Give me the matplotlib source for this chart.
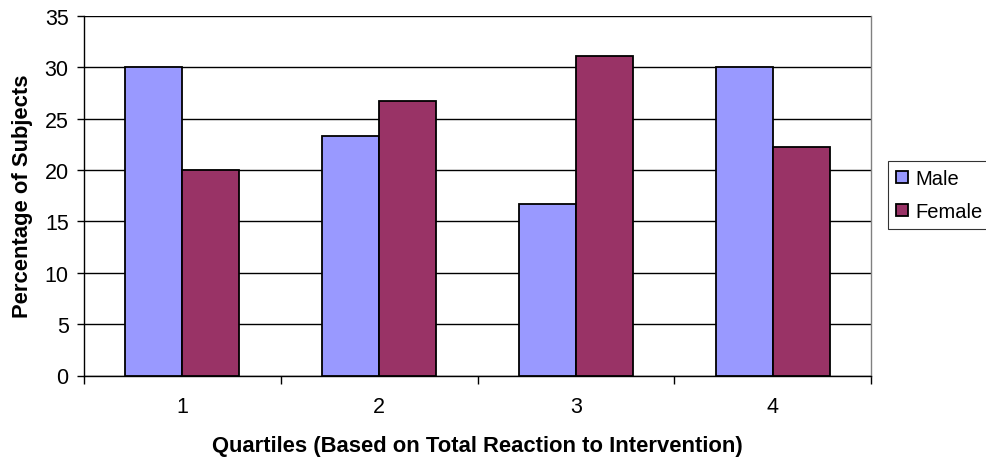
import matplotlib
matplotlib.use("Agg")
import matplotlib.pyplot as plt
from matplotlib.ticker import FixedLocator, NullFormatter
import numpy as np

plt.rcParams['font.family'] = ['Liberation Sans', 'DejaVu Sans']

quartiles = ["1", "2", "3", "4"]
male = [30.0, 23.3, 16.7, 30.0]
female = [20.0, 26.7, 31.1, 22.2]
yticks = [0, 5, 10, 15, 20, 25, 30, 35]

male_color = "#9999FF"
female_color = "#993366"
fs = 15.5

fig = plt.figure(figsize=(9.86, 4.6), dpi=100)
W, H = 986, 460
left, right, top, bottom = 84, 871, 17, 376.5
ax = fig.add_axes([left / W, 1 - bottom / H, (right - left) / W, (bottom - top) / H])

x = np.arange(len(quartiles))
bw = 0.29
ax.bar(x - bw / 2, male, bw, color=male_color, edgecolor="black", linewidth=1.3, label="Male", zorder=3)
ax.bar(x + bw / 2, female, bw, color=female_color, edgecolor="black", linewidth=1.3, label="Female", zorder=3)

ax.set_xlim(-0.5, len(quartiles) - 0.5)
ax.set_ylim(0, 35)
ax.set_yticks(yticks)
ax.yaxis.grid(True, color="black", linewidth=1.0, zorder=0)
ax.set_axisbelow(True)

ax.set_xticks(x)
ax.set_xticklabels(quartiles)
ax.xaxis.set_minor_locator(FixedLocator(np.arange(-0.5, len(quartiles), 1.0)))
ax.xaxis.set_minor_formatter(NullFormatter())
ax.tick_params(axis="x", which="major", length=0, labelsize=fs, pad=15)
ax.tick_params(axis="x", which="minor", length=6, width=1.0, color="black")
ax.tick_params(axis="y", length=5, width=1.0, labelsize=fs, pad=6)

ax.spines["top"].set_visible(False)
ax.spines["right"].set_color("#808080")
ax.spines["left"].set_color("black")
ax.spines["bottom"].set_color("black")
for s in ax.spines.values():
    s.set_linewidth(1.0)

ax.set_ylabel("Percentage of Subjects", fontsize=15.8, fontweight="bold", labelpad=8)
ax.set_xlabel("Quartiles (Based on Total Reaction to Intervention)", fontsize=15.8,
              fontweight="bold", labelpad=13)

leg = fig.legend(loc="upper left", bbox_to_anchor=(888 / W, 1 - 162 / H),
                 fontsize=14.5, frameon=True, fancybox=False, edgecolor="black",
                 handlelength=0.6, handleheight=0.6, handletextpad=0.35,
                 borderpad=0.4, labelspacing=0.7, borderaxespad=0)
leg.get_frame().set_linewidth(0.8)

fig.savefig("out.png", dpi=100)
